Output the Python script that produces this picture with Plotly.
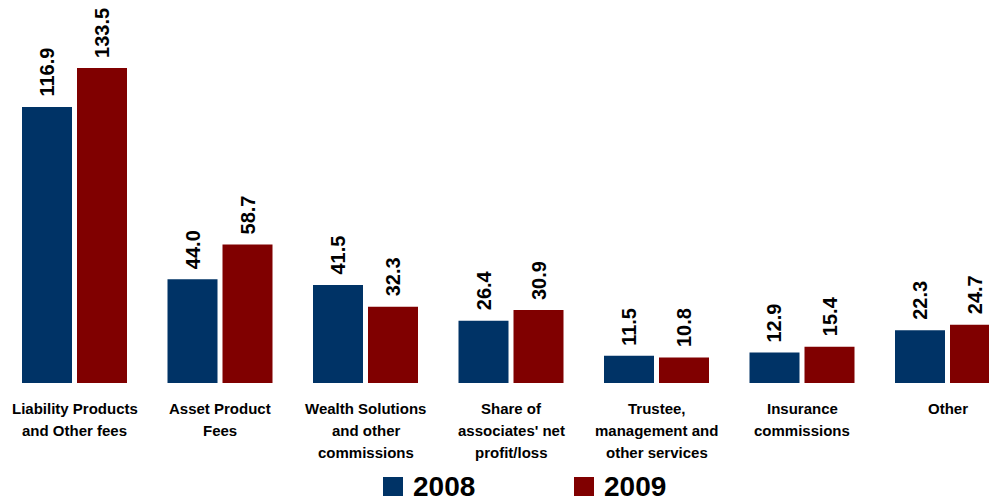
import plotly.graph_objects as go

# Fee income by source, 2008 vs 2009
categories = [
    "Liability Products and Other fees",
    "Asset Product Fees",
    "Wealth Solutions and other commissions",
    "Share of associates' net profit/loss",
    "Trustee, management and other services",
    "Insurance commissions",
    "Other",
]
category_lines = [
    ["Liability Products", "and Other fees"],
    ["Asset Product", "Fees"],
    ["Wealth Solutions", "and other", "commissions"],
    ["Share of", "associates' net", "profit/loss"],
    ["Trustee,", "management and", "other services"],
    ["Insurance", "commissions"],
    ["Other"],
]
years = ["2008", "2009"]
values_2008 = [116.9, 44.0, 41.5, 26.4, 11.5, 12.9, 22.3]
values_2009 = [133.5, 58.7, 32.3, 30.9, 10.8, 15.4, 24.7]

colors = ["#003366", "#800000"]
FONT = "Arial, 'Liberation Sans', sans-serif"

W, H = 989, 501
PLOT_BOTTOM = 383  # pixel row of the x axis baseline

fig = go.Figure()
xs = list(range(len(categories)))
for name, vals, col in zip(years, [values_2008, values_2009], colors):
    fig.add_trace(go.Bar(
        x=xs, y=vals, name=name, marker=dict(color=col, line=dict(width=0)),
        showlegend=False, hoverinfo="x+y",
    ))

annotations = []
# value labels above each bar, rotated
for offset, vals in zip([-27.5, 27.5], [values_2008, values_2009]):
    for i, v in enumerate(vals):
        annotations.append(dict(
            x=i, y=v, xref="x", yref="y", text=f"<b>{v:.1f}</b>",
            textangle=-90, showarrow=False, xshift=offset, yshift=8,
            xanchor="center", yanchor="bottom",
            font=dict(family=FONT, size=20, color="#000000"),
        ))

# category labels, one annotation per line
for i, lines in enumerate(category_lines):
    for j, line in enumerate(lines):
        annotations.append(dict(
            x=i, y=0, xref="x", yref="paper", text=f"<b>{line}</b>",
            showarrow=False, xanchor="center", yanchor="middle",
            yshift=-(25 + 22 * j),
            font=dict(family=FONT, size=15, color="#000000"),
        ))

# legend drawn below the categories
shapes = []
legend_x = [383, 574]
for name, col, lx in zip(years, colors, legend_x):
    shapes.append(dict(
        type="rect", xref="paper", yref="paper",
        x0=lx / W, x1=(lx + 20) / W,
        y0=(PLOT_BOTTOM - 496) / PLOT_BOTTOM, y1=(PLOT_BOTTOM - 477) / PLOT_BOTTOM,
        fillcolor=col, line=dict(width=0),
    ))
    annotations.append(dict(
        x=(lx + 28) / W, y=0, xref="paper", yref="paper",
        text=f"<b>{name}</b>", showarrow=False,
        xanchor="left", yanchor="middle", yshift=-(486 - PLOT_BOTTOM),
        font=dict(family=FONT, size=28, color="#000000"),
    ))

unit = 145.5
x0 = -74.5 / unit
fig.update_layout(
    width=W, height=H,
    margin=dict(l=0, r=0, t=0, b=H - PLOT_BOTTOM, pad=0),
    paper_bgcolor="white", plot_bgcolor="white",
    barmode="group", bargap=0.244, bargroupgap=5 / 55,
    xaxis=dict(range=[x0, x0 + W / unit], showticklabels=False,
               showgrid=False, zeroline=False, showline=False, ticks=""),
    yaxis=dict(range=[0, PLOT_BOTTOM / 2.36], visible=False,
               showgrid=False, zeroline=False),
    annotations=annotations, shapes=shapes,
    showlegend=False,
)

fig.write_html("out.html")
